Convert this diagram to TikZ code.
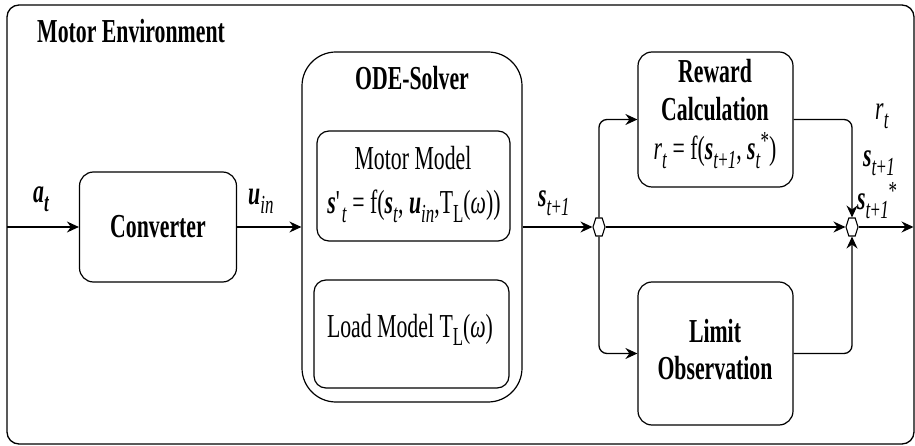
\documentclass[tikz,border=0pt]{standalone}
\usepackage{fontspec}
\setmainfont{Liberation Serif}[FakeStretch=0.65]
\usetikzlibrary{arrows.meta,shapes.symbols}

% sub- and superscripts set in text mode
\newcommand\lo[1]{\raisebox{-0.26em}{\fontsize{26}{26}\selectfont #1}}
\newcommand\hi[1]{\raisebox{0.30em}{\fontsize{26}{26}\selectfont #1}}
\newcommand\bivar[1]{\textbf{\textit{#1}}}

\begin{document}
\begin{tikzpicture}[x=1pt, y=-1pt,
  every node/.style={font=\fontsize{33.5}{36}\selectfont, inner sep=0pt},
  blk/.style={draw, line width=1.2pt, rounded corners=14pt},
  inblk/.style={draw, line width=1.2pt, rounded corners=12pt},
  txt/.style={anchor=base},
  flow/.style={line width=1.3pt, -{Stealth[length=12pt, width=11pt, inset=4pt]}},
  elbow/.style={flow, rounded corners=8pt},
  junction/.style={draw, fill=white, line width=1.1pt, signal,
    signal to=east and west, signal pointer angle=145, minimum height=18pt,
    minimum width=12pt}]
\useasboundingbox (0,0) rectangle (915,446);

% environment frame and title
\node[draw, line width=1.3pt, rounded corners=12pt, minimum width=907pt,
  minimum height=439pt] (env) at (460.5,224.5) {};
\node[txt, anchor=base west] (title) at (37,43) {\textbf{Motor Environment}};

% converter
\node[blk, minimum width=157pt, minimum height=110pt] (conv) at (158,227)
  {\textbf{Converter}};

% ODE solver with its two models
\node[draw, line width=1.2pt, rounded corners=34pt, minimum width=220pt,
  minimum height=350pt] (ode) at (412,227) {};
\node[txt] (odet) at (412,90) {\textbf{ODE-Solver}};
\node[inblk, minimum width=193pt, minimum height=110pt] (motor) at (413.5,186) {};
\node[txt] (motort) at (413,170) {Motor Model};
\node[txt] (motorf) at (414,214) {\bivar{s}\textquotesingle\lo{\textit{t}} = f(\bivar{s}\lo{\textit{t}},
  \bivar{u}\lo{\textit{in}},T\lo{L}(\textit{ω}))};
\node[inblk, minimum width=195pt, minimum height=108pt] (load) at (411.5,334) {};
\node[txt] (loadt) at (410,337) {Load Model T\lo{L}(\textit{ω})};

% reward and limit blocks
\node[blk, minimum width=155pt, minimum height=135pt] (rew) at (715.5,119.5) {};
\node[txt] (rew1) at (715,83) {\textbf{Reward}};
\node[txt] (rew2) at (715,121) {\textbf{Calculation}};
\node[txt] (rew3) at (715,160) {\textit{r}\lo{\textit{t}} = f(\bivar{s}\lo{\textit{t}+\textit{1}},
  \bivar{s}\lo{\textit{t}}\hi{*})};
\node[blk, minimum width=155pt, minimum height=143pt] (lim) at (715.5,353.5) {};
\node[txt] (lim1) at (715,342) {\textbf{Limit}};
\node[txt] (lim2) at (715,379) {\textbf{Observation}};

% junctions
\node[junction] (h1) at (599,227) {};
\node[junction] (h2) at (852,227) {};

% open ends of the signal path
\coordinate (in) at (7,227);
\coordinate (out) at (913.5,227);

% connectors
\draw[flow] (in) -- (conv);
\draw[flow] (conv) -- (ode);
\draw[flow] (ode.east |- h1) -- (h1);
\draw[elbow] (h1.north) |- (rew.west);
\draw[elbow] (h1.south) |- (lim.west);
\draw[flow] (h1) -- (h2);
\draw[elbow] (rew.east) -| (h2.north);
\draw[elbow] (lim.east) -| (h2.south);
\draw[flow] (h2) -- (out);

% signal labels
\node[txt, anchor=base west] (lat) at (33,203) {\bivar{a}\lo{\bivar{t}}};
\node[txt, anchor=base west] (luin) at (248,205) {\bivar{u}\lo{\textit{in}}};
\node[txt, anchor=base west] (ls) at (538,207) {\bivar{s}\lo{\textit{t}+\textit{1}}};
\node[txt, anchor=base west] (lr) at (875,120) {\textit{r}\lo{\textit{t}}};
\node[txt, anchor=base west] (ls2) at (863,167) {\bivar{s}\lo{\textit{t}+\textit{1}}};
\node[txt, anchor=base west] (ls3) at (857,210) {\bivar{s}\lo{\textit{t}+\textit{1}}\hi{*}};
\end{tikzpicture}
\end{document}
